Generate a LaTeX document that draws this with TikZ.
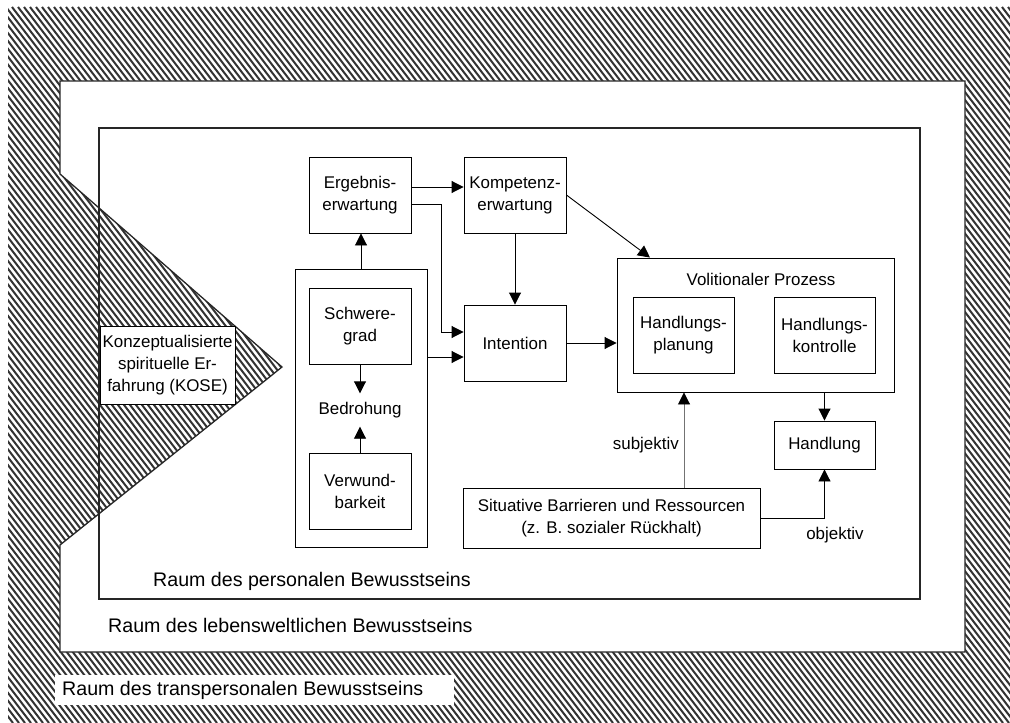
\documentclass[tikz,border=0pt]{standalone}
\usepackage{fontspec}
\setmainfont{Liberation Sans}
\usetikzlibrary{arrows.meta}
\newcommand\mybf{\fontsize{17}{22}\selectfont}
\newcommand\mylf{\fontsize{19.7}{23}\selectfont}
\begin{document}
\begin{tikzpicture}[x=1bp,y=-1bp,
  box/.style={draw,line width=0.9bp,inner sep=0pt,align=center,font=\mybf},
  sbox/.style={box,minimum width=102bp,minimum height=76bp},
  arr/.style={line width=0.9bp,-{Triangle[length=12bp,width=12bp]}},
  subarr/.style={line width=0.9bp,draw=black!55,-{Triangle[length=12bp,width=12bp,color=black]}},
  hatch/.style={line width=2bp,draw=black!80},
  lab/.style={font=\mylf,inner sep=0pt}]
\useasboundingbox (0,0) rectangle (1010,723);
% hatched transpersonal space
\begin{scope}
  \clip (8,7) rectangle (1010,723);
  \foreach \i in {-92,...,170} {\draw[hatch] (\i*6,7) -- ++(547,716);}
\end{scope}
% lebensweltlich space with wedge
\filldraw[fill=white,draw=black!85,line width=1.3bp]
  (60,81) -- (965,81) -- (965,652) -- (60,652) -- (60,545) -- (282,367) -- (60,174) -- cycle;
% personal space
\draw[line width=1.1bp,draw=black!85] (99,128) rectangle (920,599);

% boxes
\node[sbox] (erg) at (360,195) {Ergebnis-\\erwartung};
\node[sbox] (komp) at (515,195) {Kompetenz-\\erwartung};
\node[sbox] (intent) at (515,343) {Intention};
\node[box,minimum width=132bp,minimum height=278bp] (bedr) at (361,408) {};
\node[sbox] (schwere) at (360,326) {Schwere-\\grad};
\node[sbox] (verw) at (360,491) {Verwund-\\barkeit};
\node[font=\mybf,inner sep=0pt,minimum height=33bp] (bedro) at (360,410) {Bedrohung};
\node[box,minimum width=277bp,minimum height=134bp] (vol) at (755.5,325) {};
\node[font=\mybf,inner sep=0pt] (voltitle) at (761,279) {Volitionaler Prozess};
\node[box,minimum width=101bp,minimum height=76bp] (hplan) at (683.5,335) {Handlungs-\\planung};
\node[box,minimum width=101bp,minimum height=76bp] (hkont) at (824.5,335) {Handlungs-\\kontrolle};
\node[box,minimum width=101bp,minimum height=48bp] (hand) at (824.5,445) {Handlung};
\node[box,minimum width=297bp,minimum height=60bp] (sit) at (611.5,518) {Situative Barrieren und Ressourcen\\(z. B. sozialer Rückhalt)};
\node[box,fill=white,minimum width=135bp,minimum height=78bp] (kose) at (167.5,365) {Konzeptualisierte\\spirituelle Er-\\fahrung (KOSE)};

% connectors
\draw[arr] (schwere.south) -- (bedro.north);
\draw[arr] (verw.north) -- (bedro.south);
\draw[arr] (bedr.north) -- (bedr.north |- erg.south);
\draw[arr] ([yshift=8bp]erg.east) -- ([yshift=8bp]komp.west);
\draw[arr] ([yshift=-9bp]erg.east) -| ([xshift=-22bp,yshift=11bp]intent.west) -- ([yshift=11bp]intent.west);
\draw[arr] (bedr.east |- 0,357) -- (intent.west |- 0,357);
\draw[arr] (komp) -- (intent);
\draw[arr] (komp.east) -- ([xshift=-105.5bp]vol.north);
\draw[arr] (intent.east) -- (intent.east -| vol.west);
\draw[subarr] (sit.north -| 684,0) -- (vol.south -| 684,0);
\draw[arr] (vol.south -| hand.north) -- (hand.north);
\draw[arr] (sit.east) -| (hand.south);

% labels
\node[font=\mybf,inner sep=0pt,anchor=east] (subj) at (679,445) {subjektiv};
\node[font=\mybf,inner sep=0pt] (obj) at (835,535) {objektiv};
\node[lab,anchor=west] (lpers) at (153,581) {Raum des personalen Bewusstseins};
\node[lab,anchor=west] (lleb) at (108,625) {Raum des lebensweltlichen Bewusstseins};
\node[lab,anchor=west,fill=white,inner xsep=7bp,minimum height=30bp] (ltrans) at (55,690) {Raum des transpersonalen Bewusstseins\kern24bp};
\end{tikzpicture}
\end{document}
